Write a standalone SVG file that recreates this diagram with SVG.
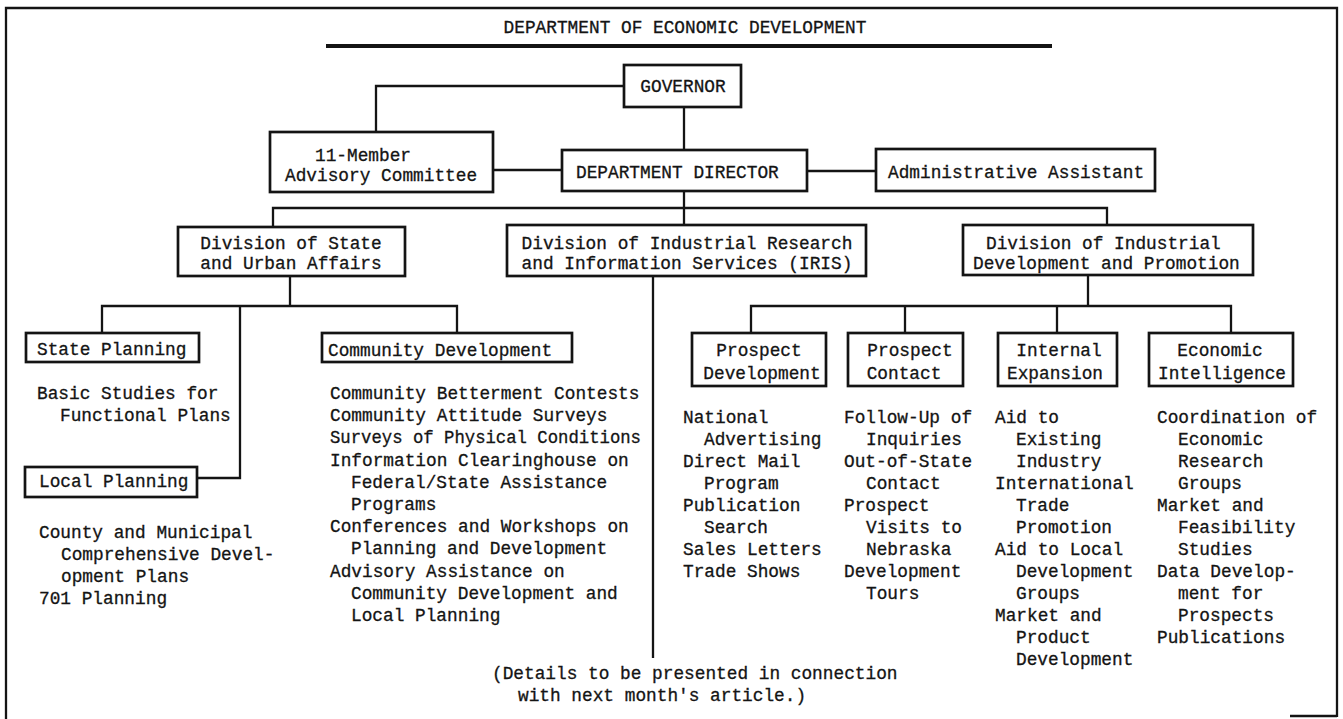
<svg xmlns="http://www.w3.org/2000/svg" width="1343" height="719" viewBox="0 0 1343 719">
<style>
text{font-family:"Liberation Mono","DejaVu Sans Mono",monospace;font-size:17.8px;fill:#141414;stroke:#141414;stroke-width:0.3}
.m{text-anchor:middle}
.box{fill:#fff;stroke:#141414;stroke-width:2.7}
.ln{fill:none;stroke:#141414;stroke-width:2.3}
</style>
<rect width="1343" height="719" fill="#fff"/>
<g id="frame">
<path class="ln" d="M6,719 V8 H1337 V717" stroke-width="2"/>
<path class="ln" d="M1290,716 H1337" stroke-width="2"/>
</g>
<g id="title">
<text x="685" y="33" class="m">DEPARTMENT OF ECONOMIC DEVELOPMENT</text>
<path d="M326,46 H1052" stroke="#141414" stroke-width="4"/>
</g>
<g id="connectors">
<path class="ln" d="M624,86 H376 V132"/>
<path class="ln" d="M684,107 V225"/>
<path class="ln" d="M493,170 H562"/>
<path class="ln" d="M807,171 H876"/>
<path class="ln" d="M273,227 V208 H1107 V225"/>
<path class="ln" d="M290,276 V306"/>
<path class="ln" d="M102,333 V306 H457 V333"/>
<path class="ln" d="M240,306 V478 H197"/>
<path class="ln" d="M653,276 V658"/>
<path class="ln" d="M1088,275 V306"/>
<path class="ln" d="M751,333 V306 H1231 V333"/>
<path class="ln" d="M905,306 V333"/>
<path class="ln" d="M1057,306 V333"/>
</g>
<g id="governor">
<rect class="box" x="624" y="65" width="117" height="42"/>
<text x="683" y="92" class="m">GOVERNOR</text>
</g>
<g id="advisory">
<rect class="box" x="270" y="132" width="223" height="60"/>
<text x="315" y="161">11-Member</text>
<text x="285" y="181">Advisory Committee</text>
</g>
<g id="director">
<rect class="box" x="562" y="150" width="245" height="41"/>
<text x="576" y="178">DEPARTMENT DIRECTOR</text>
</g>
<g id="admin">
<rect class="box" x="876" y="149" width="279" height="42"/>
<text x="888" y="178">Administrative Assistant</text>
</g>
<g id="div-state">
<rect class="box" x="178" y="227" width="227" height="49"/>
<text x="291" y="249" class="m">Division of State</text>
<text x="291" y="269" class="m">and Urban Affairs</text>
</g>
<g id="div-iris">
<rect class="box" x="507" y="225" width="359" height="51"/>
<text x="687" y="249" class="m">Division of Industrial Research</text>
<text x="687" y="269" class="m">and Information Services (IRIS)</text>
</g>
<g id="div-industrial">
<rect class="box" x="963" y="225" width="290" height="50"/>
<text x="986" y="249">Division of Industrial</text>
<text x="973" y="269">Development and Promotion</text>
</g>
<g id="state-planning">
<rect class="box" x="26" y="333" width="173" height="29"/>
<text x="37" y="355">State Planning</text>
<text x="37" y="399">Basic Studies for</text>
<text x="60" y="421">Functional Plans</text>
</g>
<g id="local-planning">
<rect class="box" x="25" y="467" width="172" height="30"/>
<text x="39" y="487">Local Planning</text>
<text x="39" y="538">County and Municipal</text>
<text x="61" y="560">Comprehensive Devel-</text>
<text x="61" y="582">opment Plans</text>
<text x="39" y="604">701 Planning</text>
</g>
<g id="community-development">
<rect class="box" x="322" y="333" width="250" height="29"/>
<text x="328" y="356">Community Development</text>
<text x="330" y="399">Community Betterment Contests</text>
<text x="330" y="421">Community Attitude Surveys</text>
<text x="330" y="443" textLength="311" lengthAdjust="spacingAndGlyphs">Surveys of Physical Conditions</text>
<text x="330" y="466">Information Clearinghouse on</text>
<text x="351" y="488">Federal/State Assistance</text>
<text x="351" y="510">Programs</text>
<text x="330" y="532">Conferences and Workshops on</text>
<text x="351" y="554">Planning and Development</text>
<text x="330" y="577">Advisory Assistance on</text>
<text x="351" y="599">Community Development and</text>
<text x="351" y="621">Local Planning</text>
</g>
<g id="prospect-development">
<rect class="box" x="692" y="333" width="134" height="53"/>
<text x="759" y="356" class="m">Prospect</text>
<text x="762" y="379" class="m">Development</text>
<text x="683" y="423">National</text>
<text x="704" y="445">Advertising</text>
<text x="683" y="467">Direct Mail</text>
<text x="704" y="489">Program</text>
<text x="683" y="511">Publication</text>
<text x="704" y="533">Search</text>
<text x="683" y="555">Sales Letters</text>
<text x="683" y="577">Trade Shows</text>
</g>
<g id="prospect-contact">
<rect class="box" x="848" y="333" width="115" height="53"/>
<text x="910" y="356" class="m">Prospect</text>
<text x="904" y="379" class="m">Contact</text>
<text x="844" y="423">Follow-Up of</text>
<text x="866" y="445">Inquiries</text>
<text x="844" y="467">Out-of-State</text>
<text x="866" y="489">Contact</text>
<text x="844" y="511">Prospect</text>
<text x="866" y="533">Visits to</text>
<text x="866" y="555">Nebraska</text>
<text x="844" y="577">Development</text>
<text x="866" y="599">Tours</text>
</g>
<g id="internal-expansion">
<rect class="box" x="998" y="333" width="119" height="53"/>
<text x="1059" y="356" class="m">Internal</text>
<text x="1055" y="379" class="m">Expansion</text>
<text x="995" y="423">Aid to</text>
<text x="1016" y="445">Existing</text>
<text x="1016" y="467">Industry</text>
<text x="995" y="489">International</text>
<text x="1016" y="511">Trade</text>
<text x="1016" y="533">Promotion</text>
<text x="995" y="555">Aid to Local</text>
<text x="1016" y="577">Development</text>
<text x="1016" y="599">Groups</text>
<text x="995" y="621">Market and</text>
<text x="1016" y="643">Product</text>
<text x="1016" y="665">Development</text>
</g>
<g id="economic-intelligence">
<rect class="box" x="1149" y="333" width="144" height="53"/>
<text x="1220" y="356" class="m">Economic</text>
<text x="1222" y="379" class="m">Intelligence</text>
<text x="1157" y="423">Coordination of</text>
<text x="1178" y="445">Economic</text>
<text x="1178" y="467">Research</text>
<text x="1178" y="489">Groups</text>
<text x="1157" y="511">Market and</text>
<text x="1178" y="533">Feasibility</text>
<text x="1178" y="555">Studies</text>
<text x="1157" y="577">Data Develop-</text>
<text x="1178" y="599">ment for</text>
<text x="1178" y="621">Prospects</text>
<text x="1157" y="643">Publications</text>
</g>
<g id="note">
<text x="492" y="679">(Details to be presented in connection</text>
<text x="518" y="701">with next month's article.)</text>
</g>
</svg>
